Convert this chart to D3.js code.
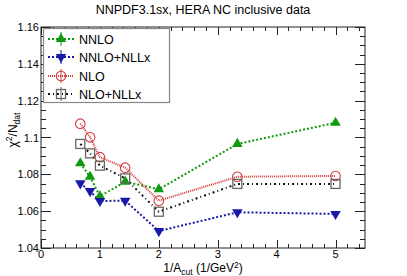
<!DOCTYPE html>
<html>
<head>
<meta charset="utf-8">
<script src="https://cdn.jsdelivr.net/npm/d3@7"></script>
<style>
  body { margin: 0; background: #fff; }
  text { font-family: "Liberation Sans", Arial, sans-serif; }
</style>
</head>
<body>
<svg id="chart" width="407" height="276"></svg>
<script>
// 1/A_cut values
const xcut = [0.667, 0.833, 1.0, 1.429, 2.0, 3.333, 5.0];
const nnlo     = [1.086, 1.0787, 1.0681, 1.076, 1.0719, 1.0965, 1.108];
const nnloNllx = [1.0751, 1.0709, 1.0655, 1.0657, 1.0492, 1.0594, 1.0585];
const nlo      = [1.1075, 1.1001, 1.0893, 1.0836, 1.0657, 1.0787, 1.0791];
const nloNllx  = [1.0965, 1.0914, 1.0847, 1.0778, 1.0597, 1.0748, 1.0748];
const xTicks = [0, 1, 2, 3, 4, 5];
const yTicks = [1.04, 1.06, 1.08, 1.1, 1.12, 1.14, 1.16];

const series = [
  { name: "NNLO",       vals: nnlo,     color: "#109a10", dash: "2,2",     sym: "up" },
  { name: "NNLO+NLLx",  vals: nnloNllx, color: "#1a1aa8", dash: "2,2",     sym: "down" },
  { name: "NLO",        vals: nlo,      color: "#d43a3a", dash: "1,1",     sym: "circle" },
  { name: "NLO+NLLx",   vals: nloNllx,  color: "#111",    dash: "2,3,1,3", sym: "square" }
];

const L = 41, R = 365, T = 27, B = 248;
const svg = d3.select("#chart");

const x = d3.scaleLinear().domain([0, 5.5]).range([L, R]);
const y = d3.scaleLinear().domain([1.04, 1.16]).range([B, T]);

// title
svg.append("text").attr("x", 203).attr("y", 14).attr("text-anchor", "middle")
  .attr("font-size", 12.5).text("NNPDF3.1sx, HERA NC inclusive data");

// frame
svg.append("rect").attr("x", L).attr("y", T).attr("width", R - L).attr("height", B - T)
  .attr("fill", "none").attr("stroke", "#222").attr("stroke-width", 1);

// ticks (ROOT style, inside, mirrored)
const g = svg.append("g").attr("stroke", "#222").attr("stroke-width", 1);
d3.range(0, 5.5001, 0.2).forEach(function(v) {
  const major = Math.abs(v - Math.round(v)) < 1e-6;
  const len = major ? 8 : 4;
  const px = Math.round(x(v)) + 0.5;
  g.append("line").attr("x1", px).attr("x2", px).attr("y1", B).attr("y2", B - len);
  g.append("line").attr("x1", px).attr("x2", px).attr("y1", T).attr("y2", T + len);
});
d3.range(1.04, 1.16001, 0.005).forEach(function(v) {
  const major = Math.abs(v * 50 - Math.round(v * 50)) < 1e-6;
  const len = major ? 10 : 5;
  const py = Math.round(y(v)) + 0.5;
  g.append("line").attr("x1", L).attr("x2", L + len).attr("y1", py).attr("y2", py);
  g.append("line").attr("x1", R).attr("x2", R - len).attr("y1", py).attr("y2", py);
});

// tick labels
svg.append("g").selectAll("text").data(xTicks).join("text")
  .attr("x", d => x(d)).attr("y", B + 10).attr("text-anchor", "middle")
  .attr("font-size", 11).text(d => d);
svg.append("g").selectAll("text").data(yTicks).join("text")
  .attr("x", L - 2).attr("y", d => y(d) + 4).attr("text-anchor", "end")
  .attr("font-size", 11).text(d => d3.format("")(+d.toFixed(2)));

// axis titles
const xt = svg.append("text").attr("x", 203).attr("y", 272).attr("text-anchor", "middle")
  .attr("font-size", 12);
xt.append("tspan").text("1/A");
xt.append("tspan").attr("font-size", 8.5).attr("dy", 3).text("cut");
xt.append("tspan").attr("dy", -3).text(" (1/GeV");
xt.append("tspan").attr("font-size", 8.5).attr("dy", -4).text("2");
xt.append("tspan").attr("dy", 4).text(")");

const yt = svg.append("text").attr("transform", "translate(17,130) rotate(-90)")
  .attr("text-anchor", "middle").attr("font-size", 12);
yt.append("tspan").text("χ");
yt.append("tspan").attr("font-size", 8.5).attr("dy", -5).text("2");
yt.append("tspan").attr("dy", 5).text("/N");
yt.append("tspan").attr("font-size", 8.5).attr("dy", 3).text("dat");

function drawMarker(sel, s, cx, cy) {
  if (s.sym === "up" || s.sym === "down") {
    sel.append("path").attr("d", d3.symbol(d3.symbolTriangle, 48)())
      .attr("transform", "translate(" + cx + "," + cy + ")" + (s.sym === "down" ? " rotate(180)" : ""))
      .attr("fill", s.color);
  } else if (s.sym === "circle") {
    sel.append("circle").attr("cx", cx).attr("cy", cy).attr("r", 4.8)
      .attr("fill", "none").attr("stroke", s.color).attr("stroke-width", 1.1);
  } else {
    sel.append("rect").attr("x", cx - 4.5).attr("y", cy - 4.5).attr("width", 9).attr("height", 9)
      .attr("fill", "none").attr("stroke", "#666").attr("stroke-width", 1.3);
  }
}

const line = d3.line().x(d => x(d[0])).y(d => y(d[1]));
const plot = svg.append("g");
series.forEach(function(s) {
  const pts = xcut.map((v, i) => [v, s.vals[i]]);
  plot.append("path").datum(pts).attr("d", line).attr("fill", "none")
    .attr("stroke", s.color).attr("stroke-width", 2).attr("stroke-dasharray", s.dash);
});
series.forEach(function(s) {
  xcut.forEach(function(v, i) { drawMarker(plot, s, x(v), y(s.vals[i])); });
});

// legend
const lg = svg.append("g");
lg.append("rect").attr("x", 43.5).attr("y", 28.5).attr("width", 126).attr("height", 74)
  .attr("fill", "#fff").attr("stroke", "#888").attr("stroke-width", 1.2);
const rowY = [39, 57, 76, 94];
series.forEach(function(s, i) {
  const cy = rowY[i];
  lg.append("line").attr("x1", 48).attr("x2", 74).attr("y1", cy).attr("y2", cy)
    .attr("stroke", s.color).attr("stroke-width", 2).attr("stroke-dasharray", s.dash);
  lg.append("line").attr("x1", 61).attr("x2", 61).attr("y1", cy - 7).attr("y2", cy + 7)
    .attr("stroke", s.sym === "square" ? "#666" : s.color).attr("stroke-width", 1);
  drawMarker(lg, s, 61, cy);
  lg.append("text").attr("x", 79).attr("y", cy + 4.5).attr("font-size", 12.5).text(s.name);
});
</script>
</body>
</html>
